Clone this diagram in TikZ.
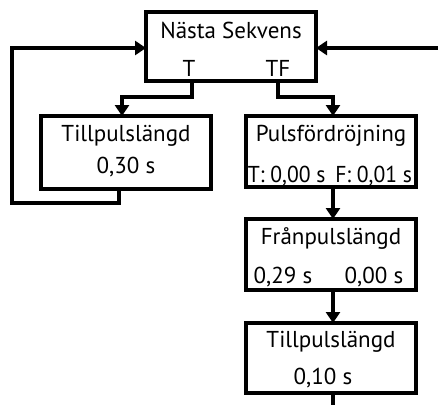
\documentclass[tikz,border=0pt]{standalone}
\usepackage{fontspec}
\usepackage{graphicx}
\setmainfont{PT Sans}
\usetikzlibrary{arrows.meta}
\begin{document}
\begin{tikzpicture}[x=1pt,y=-1pt,
  box/.style={draw,line width=3.5pt,minimum width=170pt,inner sep=0pt,outer sep=0pt},
  txt/.style={font=\fontsize{23}{27}\selectfont,inner sep=0pt,anchor=center},
  flow/.style={line width=3.5pt,-{Triangle[length=11pt,width=14pt]}},
  wire/.style={line width=3.5pt}]
\useasboundingbox (0,0) rectangle (438,405);
% boxes
\node[box,minimum height=69pt] (top) at (231,46.5) {};
\node[box,minimum height=73pt] (on1) at (126,152.5) {};
\node[box,minimum height=71pt] (delay) at (331,151.5) {};
\node[box,minimum height=71pt] (off) at (331,254.5) {};
\node[box,minimum height=70pt] (on2) at (331,358) {};
% labels
\node[txt] (ttop) at (231,30) {Nästa Sekvens};
\node[txt] (tT) at (189,68) {T};
\node[txt] (tTF) at (278,68) {TF};
\node[txt] (ton1) at (126,136) {Tillpulslängd};
\node[txt] (von1) at (126,167) {0,30 s};
\node[txt] (tdel) at (331,136) {Pulsfördröjning};
\node[txt] (vdel) at (330,176) {\scalebox{0.94}[1]{T: 0,00 s\hspace{0.45em}F: 0,01 s}};
\node[txt] (toff) at (331,238) {Frånpulslängd};
\node[txt] (voff1) at (283,277) {0,29 s};
\node[txt] (voff2) at (374,277) {0,00 s};
\node[txt] (ton2) at (331,342) {Tillpulslängd};
\node[txt] (von2) at (323,378) {0,10 s};
% junction points
\coordinate (tdrop) at (192,97);
\coordinate (tfdrop) at (278,97);
\coordinate (loopb) at (12,203);
\coordinate (loopt) at (12,48);
\coordinate (rin) at (438,48);
\coordinate (tail) at (331,405);
% connectors
\draw[flow] (top.south -| tdrop) -- (tdrop) -| (on1.north -| 122,0);
\draw[flow] (top.south -| tfdrop) -- (tfdrop) -| (delay.north -| 333,0);
\draw[flow] (on1.south -| 119,0) |- (loopb) -- (loopt) -- (top.west |- loopt);
\draw[flow] (rin) -- (top.east |- rin);
\draw[flow] (delay.south -| 333,0) -- (off.north -| 333,0);
\draw[flow] (off.south -| 333,0) -- (on2.north -| 333,0);
\draw[wire] (on2.south -| 333,0) -- (tail -| 333,0);
\end{tikzpicture}
\end{document}
